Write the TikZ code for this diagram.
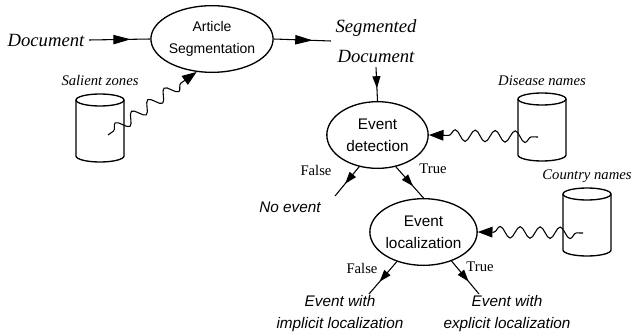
\documentclass[tikz,border=0pt]{standalone}
\usepackage{fontspec}
\setmainfont{Liberation Serif}
\setsansfont{Liberation Sans}
\usepackage{tikz}
\usetikzlibrary{
    positioning,
    arrows.meta,
    shapes.geometric,
    decorations.pathmorphing,
    decorations.markings
}
\tikzset{
    stage/.style={draw, ellipse, line width=1pt, inner sep=0pt, align=center,
        minimum width=76pt, minimum height=50pt,
        font=\sffamily\fontsize{11.5}{16.5}\selectfont},
    inlabel/.style={font=\itshape\fontsize{14}{22.5}\selectfont, align=center},
    dblabel/.style={font=\itshape\fontsize{11}{13}\selectfont},
    branch/.style={font=\fontsize{11}{13}\selectfont},
    outcome/.style={font=\sffamily\itshape\fontsize{11.5}{16.5}\selectfont, align=center},
    flow/.style={line width=0.8pt, postaction={decorate},
        decoration={markings, mark=at position #1 with {\arrow{Triangle[length=9pt,width=6pt]}}}},
    flow/.default=0.6,
    bigflow/.style={line width=0.8pt, postaction={decorate},
        decoration={markings, mark=at position #1 with {\arrow{Triangle[length=13pt,width=7pt]}}}},
    bigflow/.default=0.68,
    wave/.style={line width=0.8pt, decorate,
        decoration={snake, amplitude=4.3pt, segment length=15pt, pre length=5pt, post length=10pt},
        -{Triangle[length=11pt,width=8pt]}},
    store/.pic={
        \draw[line width=1pt, fill=white] (-24,0) -- (-24,56)
            arc[start angle=180, end angle=0, x radius=24, y radius=6] -- (24,0);
        \draw[line width=1pt] (0,0) ellipse [x radius=24, y radius=6];
    }
}

\begin{document}
\begin{tikzpicture}[x=0.75pt, y=-0.75pt]
    \useasboundingbox (0,0) rectangle (634,335);

    % processing stages
    \node[stage, minimum width=76.5pt, minimum height=50pt,
          font=\sffamily\fontsize{10.5}{16.5}\selectfont] (artseg) at (212,39) {Article\\Segmentation};
    \node[stage] (evdet) at (377.5,135) {Event\\detection};
    \node[stage] (evloc) at (423.5,232) {Event\\localization};

    % inputs and outputs
    \node[inlabel] (doc) at (46,40) {Document};
    \node[inlabel] (segdoc) at (376,41) {Segmented\\Document};
    \node[outcome] (noevent) at (290,207) {No event};
    \node[outcome] (impl) at (340,314) {Event with\\implicit localization};
    \node[outcome] (expl) at (507,314) {Event with\\explicit localization};

    % knowledge bases
    \pic (szdb) at (100,100) {store};
    \pic (dndb) at (542,99) {store};
    \pic (cndb) at (587,194) {store};
    \node[dblabel] (szlabel) at (100,80) {Salient zones};
    \node[dblabel] (dnlabel) at (542,81) {Disease names};
    \node[dblabel] (cnlabel) at (587,176) {Country names};
    \coordinate (sz-tap) at (108,135);
    \coordinate (dn-tap) at (538,137);
    \coordinate (cn-tap) at (583,233);

    % free ends of the branches
    \coordinate (noev-in) at (335,196);
    \coordinate (impl-in) at (369,294);
    \coordinate (expl-in) at (479,294);

    % main flow
    \draw[bigflow] (doc.east) -- (artseg.west);
    \draw[bigflow] (artseg.east) -- (segdoc.west);
    \draw[flow=0.62] (segdoc.south) -- (evdet.north);

    \draw[flow=0.58] (evdet.240) -- (noev-in);
    \draw[flow=0.62] (evdet.300) -- (evloc.north);
    \draw[flow=0.62] (evloc.228) -- (impl-in);
    \draw[flow=0.62] (evloc.314) -- (expl-in);

    \node[branch] (f1) at (316,170) {False};
    \node[branch] (t1) at (433,169) {True};
    \node[branch] (f2) at (362,268) {False};
    \node[branch] (t2) at (480,267) {True};

    % lookups
    \draw[wave] (sz-tap) -- (artseg.245);
    \draw[wave] (dn-tap) -- (evdet.east);
    \draw[wave] (cn-tap) -- (evloc.east);
\end{tikzpicture}
\end{document}
